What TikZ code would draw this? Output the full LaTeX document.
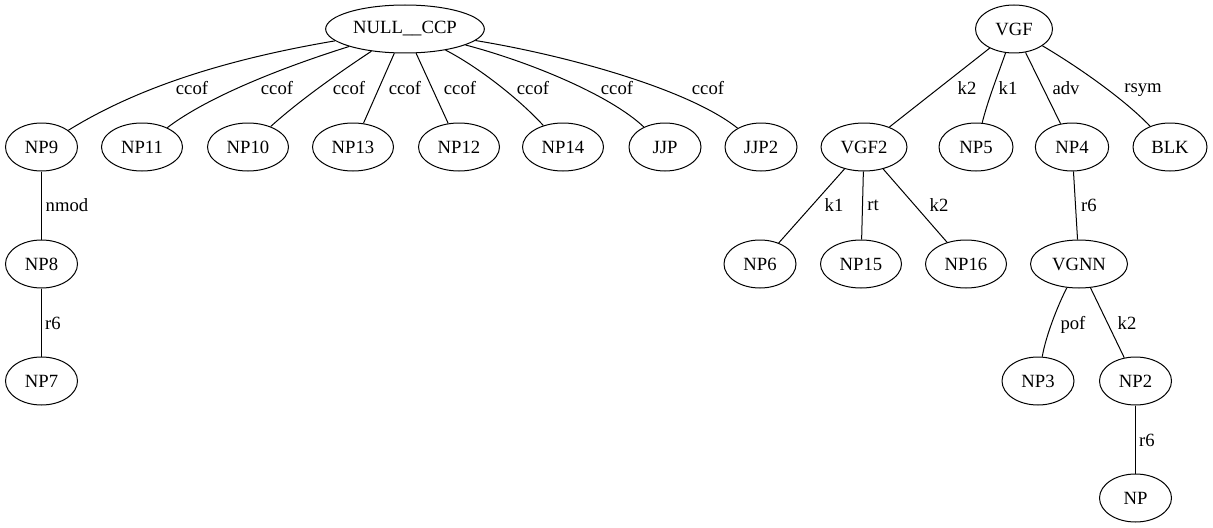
\documentclass[tikz,border=0pt]{standalone}
\usepackage{fontspec}
\setmainfont{Liberation Serif}
\usetikzlibrary{shapes.geometric}
\begin{document}
\begin{tikzpicture}[x=0.75pt,y=-0.75pt,
  nd/.style={draw,ellipse,line width=0.75pt,minimum height=36pt,minimum width=54pt,inner sep=0pt,font=\fontsize{14pt}{16pt}\selectfont},
  lbl/.style={inner sep=0pt,text depth=0pt,font=\fontsize{14pt}{16pt}\selectfont},
  edge/.style={line width=0.75pt}]
\useasboundingbox (0,0) rectangle (1213,528);
% nodes
\node[nd,minimum width=119pt] (nullccp) at (405,29) {NULL\_\_CCP};
\node[nd,minimum width=57.75pt] (vgf) at (1014,29) {VGF};
\node[nd] (np9) at (41.5,147) {NP9};
\node[nd,minimum width=60.75pt] (np11) at (142,147) {NP11};
\node[nd,minimum width=60.75pt] (np10) at (248,147) {NP10};
\node[nd,minimum width=60.75pt] (np13) at (353,147) {NP13};
\node[nd,minimum width=60.75pt] (np12) at (459,147) {NP12};
\node[nd,minimum width=60.75pt] (np14) at (563,147) {NP14};
\node[nd] (jjp) at (665,147) {JJP};
\node[nd] (jjp2) at (761,147) {JJP2};
\node[nd,minimum width=64.5pt] (vgf2) at (864,147) {VGF2};
\node[nd,minimum width=55.5pt] (np5) at (976,147) {NP5};
\node[nd,minimum width=55pt] (np4) at (1072,147) {NP4};
\node[nd,minimum width=55.5pt] (blk) at (1170,147) {BLK};
\node[nd] (np8) at (41.5,264) {NP8};
\node[nd] (np6) at (760,264) {NP6};
\node[nd,minimum width=60.75pt] (np15) at (861,264) {NP15};
\node[nd,minimum width=60.75pt] (np16) at (966,264) {NP16};
\node[nd,minimum width=72.75pt] (vgnn) at (1079,264) {VGNN};
\node[nd] (np7) at (41.5,381) {NP7};
\node[nd] (np3) at (1038,381) {NP3};
\node[nd] (np2) at (1135.5,381) {NP2};
\node[nd] (np) at (1135.5,498) {NP};
% edges
\draw[edge] (nullccp) .. controls (228,59) and (138,87) .. (np9);
\draw[edge] (nullccp) .. controls (290,65) and (210,95) .. (np11);
\draw[edge] (nullccp) .. controls (340,72) and (300,100) .. (np10);
\draw[edge] (nullccp) -- (np13);
\draw[edge] (nullccp) -- (np12);
\draw[edge] (nullccp) .. controls (480,68) and (520,100) .. (np14);
\draw[edge] (nullccp) .. controls (530,62) and (610,95) .. (jjp);
\draw[edge] (nullccp) .. controls (570,56) and (690,90) .. (jjp2);
\draw[edge] (vgf) -- (vgf2);
\draw[edge] (vgf) .. controls (996,80) and (988,100) .. (np5);
\draw[edge] (vgf) -- (np4);
\draw[edge] (vgf) .. controls (1080,68) and (1125,100) .. (blk);
\draw[edge] (np9) -- (np8);
\draw[edge] (np8) -- (np7);
\draw[edge] (vgf2) -- (np6);
\draw[edge] (vgf2) -- (np15);
\draw[edge] (vgf2) -- (np16);
\draw[edge] (np4) -- (vgnn);
\draw[edge] (vgnn) .. controls (1058,305) and (1046,335) .. (np3);
\draw[edge] (vgnn) -- (np2);
\draw[edge] (np2) -- (np);
% labels
\node[lbl] (l1) at (192,88) {ccof};
\node[lbl] (l2) at (277,88) {ccof};
\node[lbl] (l3) at (349,88) {ccof};
\node[lbl] (l4) at (405,88) {ccof};
\node[lbl] (l5) at (460,88) {ccof};
\node[lbl] (l6) at (533,88) {ccof};
\node[lbl] (l7) at (617,88) {ccof};
\node[lbl] (l8) at (708,88) {ccof};
\node[lbl] (l9) at (967,88) {k2};
\node[lbl] (l10) at (1008,88) {k1};
\node[lbl] (l11) at (1066,88) {adv};
\node[lbl] (l12) at (1143,88) {rsym};
\node[lbl] (l13) at (67,205) {nmod};
\node[lbl] (l14) at (53,323) {r6};
\node[lbl] (l15) at (834,205) {k1};
\node[lbl] (l16) at (873,205) {rt};
\node[lbl] (l17) at (939,205) {k2};
\node[lbl] (l18) at (1089,205) {r6};
\node[lbl] (l19) at (1073,323) {pof};
\node[lbl] (l20) at (1127,323) {k2};
\node[lbl] (l21) at (1147,440) {r6};
\end{tikzpicture}
\end{document}
